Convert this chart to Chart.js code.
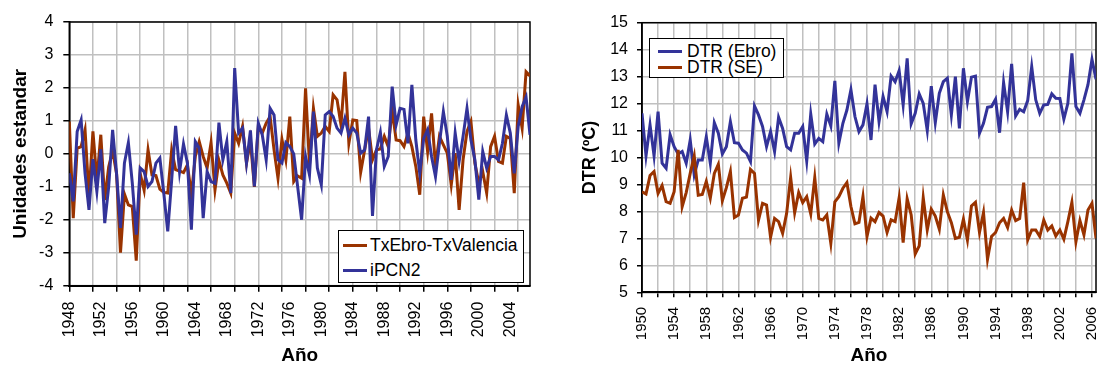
<!DOCTYPE html>
<html lang="es">
<head>
<meta charset="utf-8">
<title>TxEbro-TxValencia / DTR</title>
<script src="https://cdn.jsdelivr.net/npm/chart.js@4.4.1/dist/chart.umd.min.js"></script>
<style>
  html, body { margin: 0; padding: 0; background: #fff; }
  #wrap { position: relative; width: 1097px; height: 367px; overflow: hidden; font-family: "Liberation Sans", Arial, sans-serif; }
  canvas { position: absolute; top: 0; }
  #grafIzq { left: 0; }
  #grafDer { left: 548px; }
  .leyenda { position: absolute; background: #fff; border: 1px solid #000; box-sizing: border-box; font-size: 17.5px; color: #000; }
  .leyenda .fila { display: flex; align-items: center; white-space: nowrap; }
  .leyenda .muestra { height: 3px; width: 24px; flex: none; }
  #leyendaIzq { left: 338px; top: 230px; width: 186px; height: 53px; padding: 2px 0 0 4px; }
  #leyendaIzq .fila { height: 25px; }
  #leyendaIzq .muestra { margin-right: 3px; }
  #leyendaDer { left: 649px; top: 38px; width: 135px; height: 40px; padding: 4px 0 0 8px; }
  #leyendaDer .fila { height: 16px; }
  #leyendaDer .muestra { margin-right: 5px; }
</style>
</head>
<body>
<div id="wrap">
  <canvas id="grafIzq" width="548" height="367"></canvas>
  <canvas id="grafDer" width="549" height="367"></canvas>
  <div id="leyendaIzq" class="leyenda"></div>
  <div id="leyendaDer" class="leyenda"></div>
</div>
<script>
// Series semestrales (dos valores por año)

// --- gráfico izquierdo: unidades estandarizadas, desde 1948 ---
const inicioIzq = 1948;
const txEbroValencia = [
  0.98, -1.95, 0.17, 0.22, 0.73, -1.3, 0.68, -0.8, 0.58, -1.4,
  -0.4, 0.1, -0.6, -3.0, -1.22, -1.55, -1.6, -3.24, -0.6, -1.1,
  0.12, -0.64, -0.66, -1.07, -1.17, -1.19, 0.12, -0.48, -0.52, -0.57,
  -0.33, -1.24, -0.08, 0.37, -0.08, -0.43, 0.34, -1.09, -0.2, -0.64,
  -0.89, -1.19, 0.63, 0.32, 0.83, -0.28, 0.4, -1.0, 0.83, 0.63,
  0.93, 1.13, 0.12, -0.74, 0.44, -0.18, 1.13, -0.84, -0.67, -0.74,
  1.99, -0.33, 1.38, 0.53, 0.63, 0.83, 0.68, 1.79, 1.64, 0.88,
  2.49, 0.32, 1.03, 1.01, -0.56, 0.12, 0.78, -0.18, 0.12, 0.15,
  0.53, 0.22, 1.33, 0.42, 0.40, 0.22, 0.63, 0.22, -0.38, -1.24,
  1.13, 0.07, 1.23, -0.38, 0.53, 0.27, 0.02, -0.94, 0.02, -1.7,
  -0.18, 0.68, 0.98, -0.28, -0.89, -0.54, -1.19, 0.22, 0.53, -0.23,
  -0.28, 0.53, 0.47, -1.19, 1.48, 0.78, 2.49, 2.36
];
const iPCN2 = [
  -0.59, -1.44, 0.68, 1.03, -0.59, -1.7, -0.16, -1.14, 0.14, -2.1,
  -1.0, 0.73, -0.59, -2.25, -0.28, 0.34, -0.89, -2.45, -0.43, -0.54,
  -0.99, -0.84, -0.28, -0.13, -1.2, -2.35, -0.79, 0.85, -0.54, 0.3,
  -0.28, -2.3, 0.37, 0.17, -1.95, -0.54, -0.84, -0.89, 0.95, -0.18,
  0.37, -1.19, 2.6, 0.63, 0.78, -0.28, 0.71, -0.99, 0.93, 0.58,
  -0.18, 1.38, 1.18, -0.18, -0.28, 0.34, 0.22, 0.0, -1.0, -2.0,
  -0.08, -0.64, 1.28, -0.43, -0.94, 1.18, 1.28, 1.13, 0.78, 0.63,
  1.08, 0.58, 0.78, 0.63, 0.02, 0.12, 1.13, -1.88, 0.12, 0.65,
  -0.38, -0.08, 2.04, 0.88, 1.38, 1.35, 0.32, 2.09, 0.42, -0.59,
  0.47, 0.73, -0.08, -0.69, 0.32, 1.28, 0.53, -0.79, 0.63, -0.23,
  0.53, 1.38, 0.42, -0.18, -1.39, 0.07, -0.43, -0.08, -0.08, -0.18,
  0.32, 1.18, 0.63, -0.59, 0.83, 1.43, 1.72, 0.58
];
const aniosEtiquetaIzq = [1948, 1952, 1956, 1960, 1964, 1968, 1972, 1976, 1980, 1984, 1988, 1992, 1996, 2000, 2004];

// --- gráfico derecho: DTR en ºC, desde 1950 ---
const inicioDer = 1950;
const dtrEbro = [
  11.64, 10.06, 11.21, 10.06, 11.70, 9.79, 9.60, 10.84, 10.40, 10.13,
  10.22, 9.79, 10.65, 9.35, 9.91, 9.91, 10.77, 9.79, 11.29, 10.90,
  10.13, 10.40, 11.33, 10.55, 10.53, 10.28, 10.16, 9.85, 11.91, 11.58,
  11.15, 10.40, 10.96, 10.22, 11.49, 11.08, 10.40, 10.28, 10.90, 10.90,
  11.15, 9.87, 11.61, 10.50, 10.71, 10.59, 11.61, 11.17, 12.84, 10.53,
  11.27, 11.76, 12.51, 11.52, 10.96, 11.21, 11.99, 10.65, 12.70, 11.33,
  12.26, 11.70, 13.02, 12.81, 13.22, 11.95, 13.68, 11.25, 11.64, 12.36,
  12.01, 11.00, 12.65, 11.29, 12.38, 12.81, 12.94, 11.58, 13.00, 11.08,
  13.31, 12.08, 12.98, 13.02, 10.90, 11.27, 11.86, 11.89, 12.16, 10.92,
  12.78, 11.70, 13.47, 11.54, 11.79, 11.70, 12.11, 13.37, 12.14, 11.64,
  11.95, 11.97, 12.36, 12.20, 12.19, 11.42, 12.01, 13.86, 11.89, 11.64,
  12.14, 12.70, 13.64, 12.90
];
const dtrSE = [
  8.73, 8.65, 9.33, 9.48, 8.67, 8.96, 8.36, 8.30, 8.73, 10.28,
  8.18, 8.70, 9.41, 10.06, 8.60, 8.63, 9.11, 8.49, 9.41, 9.75,
  8.40, 8.88, 9.48, 7.78, 7.87, 8.49, 8.53, 9.56, 9.41, 7.68,
  8.30, 8.24, 7.04, 7.74, 7.62, 7.19, 7.93, 9.26, 7.95, 8.70,
  8.33, 8.55, 7.91, 9.25, 7.74, 7.68, 7.87, 6.82, 8.36, 8.55,
  8.86, 9.07, 8.18, 7.54, 7.59, 8.55, 7.07, 7.75, 7.62, 7.96,
  7.83, 7.22, 7.69, 7.62, 8.51, 6.84, 8.47, 7.87, 6.42, 6.72,
  8.51, 7.31, 8.08, 7.83, 7.34, 8.61, 7.99, 7.58, 7.00, 7.04,
  7.71, 6.94, 8.20, 8.34, 7.22, 7.96, 6.23, 7.07, 7.22, 7.58,
  7.74, 7.40, 8.05, 7.66, 7.74, 9.07, 6.94, 7.31, 7.31, 7.07,
  7.68, 7.31, 7.46, 7.09, 7.31, 6.97, 7.62, 8.34, 6.87, 7.66,
  7.13, 8.05, 8.30, 7.00
];
const aniosEtiquetaDer = [1950, 1954, 1958, 1962, 1966, 1970, 1974, 1978, 1982, 1986, 1990, 1994, 1998, 2002, 2006];

const AZUL = '#333399';
const MARRON = '#993300';
const GRIS = '#c0c0c0';

Chart.defaults.font.family = '"Liberation Sans", Arial, sans-serif';
Chart.defaults.color = '#000';

function puntos(inicio, valores) {
  return valores.map((v, i) => ({ x: inicio + i / 2, y: v }));
}

function aniosEnteros(desde, hasta) {
  const t = [];
  for (let a = desde; a <= hasta; a++) t.push({ value: a });
  return t;
}

// marco negro alrededor del área de trazado (arriba y a la derecha)
const marco = {
  id: 'marco',
  beforeDatasetsDraw(chart) {
    const { ctx, chartArea: a } = chart;
    ctx.save();
    ctx.strokeStyle = '#000';
    ctx.lineWidth = 1.5;
    ctx.strokeRect(a.left, a.top, a.right - a.left, a.bottom - a.top);
    ctx.restore();
  }
};

function crearGrafico(id, cfg) {
  const n = Math.max(...cfg.series.map(s => s.datos.length));
  const ultimo = cfg.inicio + (n - 1) / 2;
  const enRejilla = c => c.tick && (c.tick.value - cfg.inicio) % cfg.pasoRejilla === 0;

  return new Chart(document.getElementById(id), {
    type: 'line',
    data: {
      datasets: cfg.series.map(s => ({
        label: s.nombre,
        data: puntos(cfg.inicio, s.datos),
        borderColor: s.color,
        backgroundColor: s.color,
        borderWidth: 3,
        pointRadius: 0,
        tension: 0,
        order: s.orden
      }))
    },
    options: {
      responsive: false,
      animation: false,
      events: [],
      layout: { padding: cfg.padding },
      plugins: { legend: { display: false }, tooltip: { enabled: false } },
      scales: {
        x: {
          type: 'linear',
          min: cfg.inicio,
          max: ultimo,
          afterBuildTicks: s => { s.ticks = aniosEnteros(cfg.inicio, Math.floor(ultimo)); },
          ticks: {
            autoSkip: false,
            minRotation: 90,
            maxRotation: 90,
            padding: cfg.xPad,
            font: { size: cfg.xFont },
            callback: v => cfg.etiquetas.includes(v) ? String(v) : ''
          },
          grid: {
            lineWidth: 1.5,
            tickLength: cfg.tick,
            color: c => enRejilla(c) ? GRIS : 'transparent',
            tickColor: c => enRejilla(c) ? '#000' : 'transparent'
          },
          border: { color: '#000', width: 2 },
          title: { display: true, text: 'Año', font: { size: 19, weight: 'bold' }, padding: 0 },
          afterFit: s => { s.height = cfg.altoX; s.paddingLeft = 0; s.paddingRight = 0; }
        },
        y: {
          min: cfg.yMin,
          max: cfg.yMax,
          ticks: { stepSize: 1, padding: cfg.yPad, font: { size: 16 } },
          grid: { color: GRIS, lineWidth: 1.5, tickColor: '#000', tickLength: cfg.tick },
          border: { color: '#000', width: 1.5 },
          title: {
            display: true,
            text: cfg.tituloY,
            font: { size: cfg.tituloYFont, weight: 'bold' },
            padding: { top: cfg.tituloYPad, bottom: 0 }
          },
          afterFit: s => { s.width = cfg.anchoY; s.paddingTop = 0; s.paddingBottom = 0; }
        }
      }
    },
    plugins: [marco]
  });
}

// leyenda con recuadro dentro del área del gráfico
function crearLeyenda(id, chart) {
  const caja = document.getElementById(id);
  chart.data.datasets.forEach(ds => {
    const fila = document.createElement('div');
    fila.className = 'fila';
    const muestra = document.createElement('span');
    muestra.className = 'muestra';
    muestra.style.background = ds.borderColor;
    const texto = document.createElement('span');
    texto.textContent = ds.label;
    fila.appendChild(muestra);
    fila.appendChild(texto);
    caja.appendChild(fila);
  });
}

const graficoIzq = crearGrafico('grafIzq', {
  inicio: inicioIzq,
  series: [
    { nombre: 'TxEbro-TxValencia', datos: txEbroValencia, color: MARRON, orden: 1 },
    { nombre: 'iPCN2', datos: iPCN2, color: AZUL, orden: 0 }
  ],
  etiquetas: aniosEtiquetaIzq,
  pasoRejilla: 3,
  yMin: -4, yMax: 4,
  tituloY: 'Unidades estandar', tituloYFont: 19, tituloYPad: 9,
  padding: { top: 22, right: 18, bottom: 0, left: 0 },
  anchoY: 69.3, altoX: 81.3,
  tick: 6, xPad: 10, yPad: 10, xFont: 16
});

const graficoDer = crearGrafico('grafDer', {
  inicio: inicioDer,
  series: [
    { nombre: 'DTR (Ebro)', datos: dtrEbro, color: AZUL, orden: 1 },
    { nombre: 'DTR (SE)', datos: dtrSE, color: MARRON, orden: 0 }
  ],
  etiquetas: aniosEtiquetaDer,
  pasoRejilla: 2,
  yMin: 5, yMax: 15,
  tituloY: 'DTR (ºC)', tituloYFont: 18, tituloYPad: 31,
  padding: { top: 22.7, right: 1, bottom: 0, left: 0 },
  anchoY: 94, altoX: 74.7,
  tick: 5, xPad: 9.5, yPad: 9, xFont: 15
});

crearLeyenda('leyendaIzq', graficoIzq);
crearLeyenda('leyendaDer', graficoDer);
</script>
</body>
</html>
